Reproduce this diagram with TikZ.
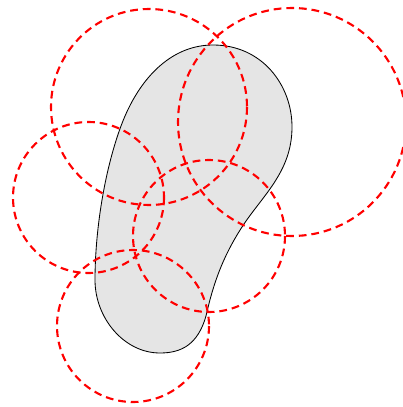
\documentclass[tikz,border=0pt]{standalone}
\begin{document}
\begin{tikzpicture}[
    x=0.025cm, y=-0.025cm,
    blob/.style={draw=black, fill=black!10, line width=0.6pt},
    cover/.style={draw=red, line width=1.5pt, dash pattern=on 5.5pt off 3.5pt}
]
    \useasboundingbox (0,0) rectangle (402,407);
    % the set
    \draw[blob] (213,45) .. controls (262,45) and (292,85) .. (292,127)
        .. controls (292,172) and (262,196) .. (242,227)
        .. controls (222,258) and (213,285) .. (206,316)
        .. controls (198,344) and (182,353) .. (160,353)
        .. controls (124,353) and (95,318) .. (95,280)
        .. controls (95,232) and (104,172) .. (121,126)
        .. controls (138,80) and (170,45) .. (213,45) -- cycle;
    % covering discs
    \draw[cover] (149,107) circle (98);
    \draw[cover] (292,122) circle (114);
    \draw[cover] (88.5,197.5) circle (75.5);
    \draw[cover] (209,236) circle (76);
    \draw[cover] (133,326) circle (76);
\end{tikzpicture}
\end{document}
